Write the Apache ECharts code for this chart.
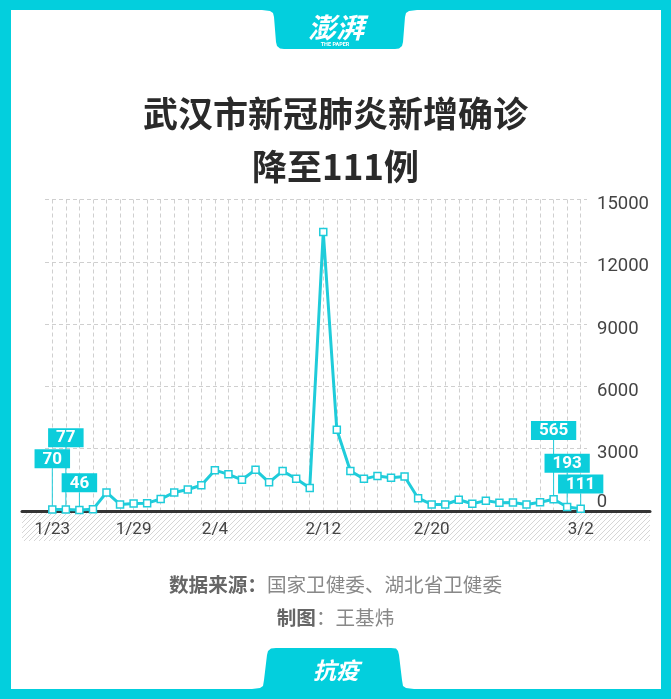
<!DOCTYPE html>
<html><head><meta charset="utf-8">
<script src="https://cdn.jsdelivr.net/npm/echarts@6/dist/echarts.min.js"></script>
<style>html,body{margin:0;padding:0;background:#fff}#c{width:671px;height:699px}</style>
</head><body><div id="c"></div>
<script>
// ---- data ----
const dates = ['1/23','1/24','1/25','1/26','1/27','1/28','1/29','1/30','1/31',
  '2/1','2/2','2/3','2/4','2/5','2/6','2/7','2/8','2/9','2/10','2/11','2/12','2/13','2/14','2/15',
  '2/16','2/17','2/18','2/19','2/20','2/21','2/22','2/23','2/24','2/25','2/26','2/27','2/28','2/29',
  '3/1','3/2'];
const newCases = [70,77,46,80,892,315,356,378,576,
  894,1033,1242,1967,1766,1501,1985,1379,1921,1552,1104,13436,3910,1923,1548,
  1690,1600,1660,615,319,314,541,348,499,401,409,318,423,565,
  193,111];
const tickLabels = ['1/23','1/29','2/4','2/12','2/20','3/2'];
const calloutDates = ['1/23','1/24','1/25','2/29','3/1','3/2'];
const yMin = 0, yMax = 15000, yStep = 3000;

// ---- styling ----
const CY = '#03CFDD';
const LINE = '#1FCCDA';
const calloutLift = {'1/23': -32, '1/24': -53, '1/25': -8.5, '2/29': -50, '3/1': -25, '3/2': -6};

const pc = document.createElement('canvas');
pc.width = 5; pc.height = 5;
const g = pc.getContext('2d');
g.strokeStyle = '#d6d6d6'; g.lineWidth = 1;
g.beginPath();
g.moveTo(0,5); g.lineTo(5,0);
g.moveTo(-1,1); g.lineTo(1,-1);
g.moveTo(4,6); g.lineTo(6,4);
g.stroke();

const chart = echarts.init(document.getElementById('c'), null, {renderer: 'canvas'});
const seriesData = newCases.map((v, i) => calloutDates.includes(dates[i]) ? {value: v, label: {show: true}} : v);

const topTab = [[262,10],[270,11],[273,13],[274,17],[276,42],[277,46],[280,48.5],[284,49],[395,49],[399,48.5],[402,46],[403,42],[405,17],[406,13],[409,11],[417,10]];
const botTab = [[252,689],[260,688],[263,686],[264,680],[267,655],[268,651],[271,648.5],[276,648],[391,648],[396,648.5],[398,651],[399,655],[402,680],[403,686],[406,688],[414,689]];

const option = {
  backgroundColor: '#fff',
  animation: false,
  title: [
    {
      text: '武汉市新冠肺炎新增确诊\n降至111例',
      left: 'center', top: 87.5, padding: [0, 0, 0, 13],
      textStyle: {fontSize: 35, fontWeight: 'bold', color: '#2a2a2a', lineHeight: 53, fontFamily: 'Noto Sans CJK SC'}
    },
    {
      text: '{b|数据来源：}{n|国家卫健委、湖北省卫健委}\n{b|制图}{n|：王基炜}',
      left: 'center', top: 568.5, padding: 0,
      textStyle: {
        lineHeight: 33, fontWeight: 'normal',
        rich: {
          b: {fontSize: 19.6, fontWeight: 'bold', color: '#666', fontFamily: 'Noto Sans CJK SC', lineHeight: 33},
          n: {fontSize: 19.6, fontWeight: 'normal', color: '#888', fontFamily: 'Noto Sans CJK SC', lineHeight: 33}
        }
      }
    }
  ],
  grid: [
    {left: 52.3, right: 90.3, top: 199.5, bottom: 188},
    {left: 45, right: 84, top: 199.5, bottom: 188},
    {left: 22, right: 21, top: 199.5, bottom: 188}
  ],
  xAxis: [
    {
      type: 'category', gridIndex: 0, data: dates, boundaryGap: false,
      axisLine: {show: false}, axisTick: {show: false},
      axisLabel: {
        interval: (idx, val) => tickLabels.includes(val),
        margin: 10, fontSize: 17, color: '#444', fontFamily: 'Roboto'
      },
      splitLine: {show: true, interval: 0, lineStyle: {color: '#cfcfcf', width: 1, type: [4, 3]}}
    },
    {type: 'value', gridIndex: 1, min: 0, max: 1, show: false},
    {
      type: 'value', gridIndex: 2, min: 0, max: 1,
      axisLine: {show: true, lineStyle: {color: '#353535', width: 3}},
      axisTick: {show: false}, axisLabel: {show: false}, splitLine: {show: false}
    }
  ],
  yAxis: [
    {
      type: 'value', gridIndex: 0, min: yMin, max: yMax, interval: yStep, position: 'right',
      axisLine: {show: false}, axisTick: {show: false}, splitLine: {show: false},
      axisLabel: {
        margin: 16, fontSize: 18.5, color: '#444', fontFamily: 'Roboto',
        verticalAlign: 'bottom', lineHeight: 18,
        formatter: v => (v === 0 ? '0' : '')
      }
    },
    {
      type: 'value', gridIndex: 1, min: yMin, max: yMax, interval: yStep, position: 'right',
      axisLine: {show: false}, axisTick: {show: false},
      splitLine: {show: true, lineStyle: {color: '#cfcfcf', width: 1, type: [4, 3]}},
      axisLabel: {
        margin: 10, fontSize: 18.5, color: '#444', fontFamily: 'Roboto',
        verticalAlign: 'top', lineHeight: 10,
        formatter: v => (v === 0 ? '' : String(v))
      }
    },
    {type: 'value', gridIndex: 2, min: 0, max: 1, show: false}
  ],
  series: [{
    type: 'line', xAxisIndex: 0, yAxisIndex: 0,
    data: seriesData,
    showAllSymbol: true,
    symbol: 'rect', symbolSize: 7,
    itemStyle: {color: '#fff', borderColor: LINE, borderWidth: 1.5},
    lineStyle: {color: LINE, width: 3},
    z: 5,
    label: {
      show: false, position: 'top', distance: 5,
      color: '#fff', backgroundColor: '#0CCDDB',
      fontFamily: 'Roboto', fontWeight: 'bold', fontSize: 17, lineHeight: 18,
      padding: [1, 8, 0, 8],
      formatter: p => String(p.value)
    },
    labelLine: {show: true, lineStyle: {color: LINE, width: 1}},
    labelLayout: p => {
      const d = calloutLift[dates[p.dataIndex]];
      return d !== undefined ? {dy: d} : {};
    }
  }],
  graphic: {
    elements: [
      {type: 'rect', z: -1, shape: {x: 22, y: 512.5, width: 628, height: 28.5},
        style: {fill: {type: 'pattern', image: pc, repeat: 'repeat'}}},
      {type: 'rect', z: 100, shape: {x: 0, y: 0, width: 671, height: 10}, style: {fill: CY}},
      {type: 'rect', z: 100, shape: {x: 0, y: 0, width: 11, height: 699}, style: {fill: CY}},
      {type: 'rect', z: 100, shape: {x: 661, y: 0, width: 10, height: 699}, style: {fill: CY}},
      {type: 'rect', z: 100, shape: {x: 0, y: 689, width: 671, height: 10}, style: {fill: CY}},
      {type: 'polygon', z: 100, shape: {points: topTab}, style: {fill: CY}},
      {type: 'polygon', z: 100, shape: {points: botTab}, style: {fill: CY}},
      {type: 'text', z: 101, style: {text: '澎湃', x: 336, y: 27, fill: '#fff', fontSize: 28, fontWeight: 'bold', fontStyle: 'italic', fontFamily: 'Noto Sans CJK SC', align: 'center', verticalAlign: 'middle', textAlign: 'center', textVerticalAlign: 'middle'}},
      {type: 'text', z: 101, style: {text: 'THE PAPER', x: 335, y: 44.5, fill: '#fff', fontSize: 5.5, fontWeight: 'bold', fontFamily: 'Roboto', align: 'center', verticalAlign: 'middle', textAlign: 'center', textVerticalAlign: 'middle'}},
      {type: 'text', z: 101, style: {text: '抗疫', x: 336, y: 670, fill: '#fff', fontSize: 23, fontWeight: 'bold', fontStyle: 'italic', fontFamily: 'Noto Sans CJK SC', align: 'center', verticalAlign: 'middle', textAlign: 'center', textVerticalAlign: 'middle'}}
    ]
  }
};
chart.setOption(option);
</script>
</body></html>
